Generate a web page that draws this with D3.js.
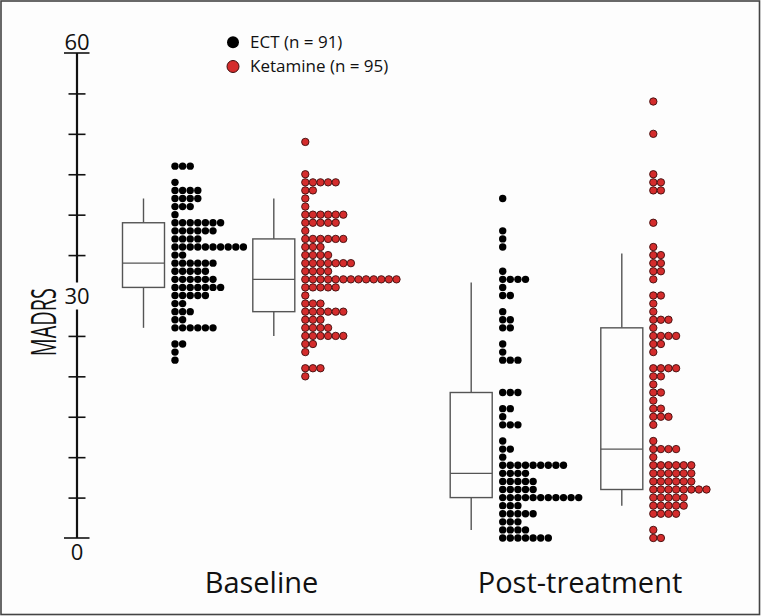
<!DOCTYPE html>
<html>
<head>
<meta charset="utf-8">
<script src="https://cdn.jsdelivr.net/npm/d3@7"></script>
<style>
  html, body { margin: 0; padding: 0; background: #fdfdfd; }
  svg { display: block; }
  text { font-family: "Open Sans", "Noto Sans", sans-serif; fill: #111; }
</style>
</head>
<body>
<script>
// ---------------- data ----------------
const timepoints = ["Baseline", "Post-treatment"];
const treatments = ["ECT", "Ketamine"];
const legendLabels = ["ECT (n = 91)", "Ketamine (n = 95)"];
const yTickValues = [5, 10, 15, 20, 25, 35, 40, 45, 50, 55];
const yLabelValues = [0, 30, 60];

// MADRS score -> number of patients (dot counts per row)
const ectBaseline = [[46,3],[44,1],[43,4],[42,4],[41,3],[40,1],[39,7],[38,6],[37,4],[36,10],[35,2],[34,6],[33,5],[32,6],[31,7],[30,5],[29,2],[28,3],[27,2],[26,6],[24,2],[23,1],[22,1]];
const ketBaseline = [[49,1],[45,1],[44,5],[43,2],[42,1],[41,1],[40,6],[39,5],[38,1],[37,6],[36,3],[35,4],[34,7],[33,4],[32,13],[31,5],[30,1],[29,3],[28,6],[27,3],[26,4],[25,6],[24,2],[23,1],[21,3],[20,1]];
const ectPost = [[42,1],[38,1],[37,1],[36,1],[33,1],[32,4],[31,1],[30,2],[28,1],[27,2],[26,2],[24,1],[23,1],[22,3],[18,3],[16,2],[15,1],[14,3],[12,1],[11,2],[10,1],[9,9],[8,4],[7,5],[6,5],[5,11],[4,3],[3,5],[2,3],[1,4],[0,7]];
const ketPost = [[54,1],[50,1],[45,1],[44,2],[43,2],[39,1],[36,1],[35,2],[34,2],[33,2],[32,1],[30,2],[29,1],[28,1],[27,3],[26,1],[25,4],[24,2],[23,1],[21,4],[20,2],[19,1],[18,2],[17,1],[16,2],[15,3],[14,1],[12,1],[11,4],[10,1],[9,6],[8,6],[7,6],[6,8],[5,5],[4,5],[3,4],[1,1],[0,2]];

// box stats: [whisker low, Q1, median, Q3, whisker high]
const ectBaselineBox = [26, 31, 34, 39, 42];
const ketBaselineBox = [25, 28, 32, 37, 42];
const ectPostBox = [1, 5, 8, 18, 31.6];
const ketPostBox = [4, 6, 11, 26, 35.2];

const series = [
  { time: "Baseline", treat: "ECT", dots: ectBaseline, box: ectBaselineBox },
  { time: "Baseline", treat: "Ketamine", dots: ketBaseline, box: ketBaselineBox },
  { time: "Post-treatment", treat: "ECT", dots: ectPost, box: ectPostBox },
  { time: "Post-treatment", treat: "Ketamine", dots: ketPost, box: ketPostBox }
];

// ---------------- layout ----------------
const W = 761, H = 616;
const svg = d3.select("body").append("svg").attr("width", W).attr("height", H);
svg.append("rect").attr("x", 0).attr("y", 0).attr("width", W).attr("height", H).attr("fill", "#fdfdfd");

const y = d3.scaleLinear().domain([0, 60]).range([538, 53]);
// first dot column for each (timepoint, treatment)
const xDot = d3.scaleOrdinal()
  .domain(["Baseline|ECT", "Baseline|Ketamine", "Post-treatment|ECT", "Post-treatment|Ketamine"])
  .range([175, 305.3, 502.7, 653.3]);
const xTime = d3.scalePoint().domain(timepoints).range([261.5, 580]);
const color = d3.scaleOrdinal().domain(treatments).range(["#000000", "#d42c2c"]);
const strokeC = d3.scaleOrdinal().domain(treatments).range(["none", "#3d0c0c"]);

const dotStep = 7.6, dotR = 3.7, boxOffset = 31.5, boxW = 42;

// ---------- axis ----------
const axisX = 77;
svg.append("line").attr("x1", axisX).attr("x2", axisX).attr("y1", y(60)).attr("y2", y(0))
  .attr("stroke", "#111").attr("stroke-width", 2.2);
const ax = svg.append("g").attr("transform", `translate(${axisX + 8.5},0)`)
  .call(d3.axisLeft(y).tickValues(yTickValues).tickSize(17).tickFormat(""));
ax.select(".domain").remove();
ax.selectAll(".tick line").attr("stroke", "#111").attr("stroke-width", 1.6);
// end ticks
svg.selectAll("line.endtick").data([0, 60]).enter().append("line")
  .attr("class", "endtick")
  .attr("x1", axisX - 13).attr("x2", axisX + 12.5)
  .attr("y1", d => y(d)).attr("y2", d => y(d))
  .attr("stroke", "#111").attr("stroke-width", 1.6);
// gap behind "30"
svg.append("rect").attr("x", axisX - 6).attr("y", y(30) - 13).attr("width", 12).attr("height", 27).attr("fill", "#fdfdfd");
svg.selectAll("text.ylab").data(yLabelValues).enter().append("text")
  .attr("class", "ylab")
  .attr("x", axisX)
  .attr("y", d => d === 60 ? y(60) - 3 : d === 0 ? y(0) + 22 : y(30) + 8)
  .attr("text-anchor", "middle")
  .attr("font-size", 22)
  .text(d => d);

svg.append("text")
  .attr("transform", `translate(56,${y(26.7)}) rotate(-90)`)
  .attr("text-anchor", "middle")
  .attr("font-size", 35)
  .attr("textLength", 68)
  .attr("lengthAdjust", "spacingAndGlyphs")
  .text("MADRS");

// ---------- boxes ----------
series.forEach(s => {
  const cx = xDot(s.time + "|" + s.treat) - boxOffset;
  const [lo, q1, med, q3, hi] = s.box;
  const g = svg.append("g").attr("stroke", "#555").attr("stroke-width", 1.4).attr("fill", "none");
  g.append("line").attr("x1", cx).attr("x2", cx).attr("y1", y(hi)).attr("y2", y(q3));
  g.append("line").attr("x1", cx).attr("x2", cx).attr("y1", y(q1)).attr("y2", y(lo));
  g.append("rect").attr("x", cx - boxW / 2).attr("y", y(q3)).attr("width", boxW).attr("height", y(q1) - y(q3)).attr("fill", "#fdfdfd");
  g.append("line").attr("x1", cx - boxW / 2).attr("x2", cx + boxW / 2).attr("y1", y(med)).attr("y2", y(med));
});

// ---------- dots ----------
series.forEach(s => {
  const x0 = xDot(s.time + "|" + s.treat);
  const pts = [];
  s.dots.forEach(([v, n]) => { for (let i = 0; i < n; i++) pts.push({ v, i }); });
  svg.append("g").selectAll("circle").data(pts).enter().append("circle")
    .attr("cx", d => x0 + d.i * dotStep)
    .attr("cy", d => y(d.v))
    .attr("r", dotR)
    .attr("fill", color(s.treat))
    .attr("stroke", strokeC(s.treat))
    .attr("stroke-width", 0.9);
});

// ---------- x labels ----------
svg.selectAll("text.xlab").data(timepoints).enter().append("text")
  .attr("class", "xlab")
  .attr("x", d => xTime(d)).attr("y", 593)
  .attr("text-anchor", "middle")
  .attr("font-size", 29)
  .text(d => d);

// ---------- legend ----------
const leg = svg.append("g");
treatments.forEach((t, i) => {
  leg.append("circle").attr("cx", 233).attr("cy", 42.3 + i * 24.2).attr("r", 6)
    .attr("fill", color(t)).attr("stroke", t === "Ketamine" ? "#3d0c0c" : "none").attr("stroke-width", 1);
  leg.append("text").attr("x", 250).attr("y", 48.3 + i * 24).attr("font-size", 17).text(legendLabels[i]);
});

// ---------- frame ----------
svg.append("rect").attr("x", 1).attr("y", 1).attr("width", W - 2.5).attr("height", H - 2.5)
  .attr("fill", "none").attr("stroke", "#444").attr("stroke-width", 1.6);
</script>
</body>
</html>
